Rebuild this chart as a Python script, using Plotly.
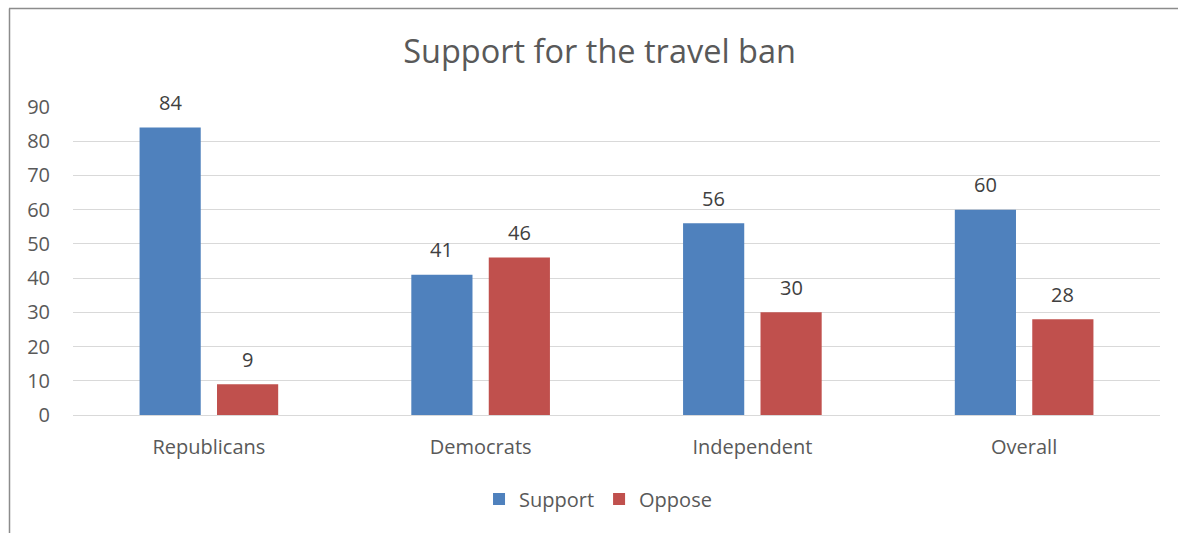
import plotly.graph_objects as go

categories = ["Republicans", "Democrats", "Independent", "Overall"]
support = [84, 41, 56, 60]
oppose = [9, 46, 30, 28]
y_ticks = [0, 10, 20, 30, 40, 50, 60, 70, 80, 90]

W, H = 1178, 533
ML, MR, MT, MB = 73, 18, 107, 118
pw = W - ML - MR
ph = H - MT - MB

FONT = "Open Sans, sans-serif"
BARGAP, GROUPGAP = 0.43, 0.21
TXT = 21

fig = go.Figure()
fig.add_trace(go.Bar(name="Support", x=categories, y=support,
                     marker=dict(color="#4F81BD", line=dict(width=0))))
fig.add_trace(go.Bar(name="Oppose", x=categories, y=oppose,
                     marker=dict(color="#C0504D", line=dict(width=0))))

# value labels centred over each bar
slot = (1 - BARGAP) / 2
for s_idx, vals in enumerate([support, oppose]):
    offset = -slot / 2 + s_idx * slot
    for i, v in enumerate(vals):
        fig.add_annotation(x=i + offset, y=v, xref="x", yref="y",
                           text=str(v), showarrow=False, yanchor="middle",
                           yshift=25, font=dict(size=TXT - 1, color="#404040", family=FONT))

# outer frame of the chart (left and top edges)
def px_to_paper_x(px):
    return (px - ML) / pw

def px_to_paper_y(py):
    return (H - MB - py) / ph

fig.add_shape(type="line", xref="paper", yref="paper",
              x0=px_to_paper_x(9.5), x1=px_to_paper_x(9.5),
              y0=px_to_paper_y(8.5), y1=px_to_paper_y(540),
              line=dict(color="#8C8C8C", width=1.5))
fig.add_shape(type="line", xref="paper", yref="paper",
              x0=px_to_paper_x(9), x1=px_to_paper_x(1190),
              y0=px_to_paper_y(8.5), y1=px_to_paper_y(8.5),
              line=dict(color="#8C8C8C", width=1.5))

fig.update_layout(
    width=W, height=H,
    margin=dict(l=ML, r=MR, t=MT, b=MB),
    paper_bgcolor="white", plot_bgcolor="white",
    font=dict(family=FONT, color="#595959", size=TXT),
    title=dict(text="Support for the travel ban", x=0.509, xanchor="center",
               y=1 - 52 / H, yanchor="middle",
               font=dict(size=32.5, color="#595959", family=FONT)),
    barmode="group", bargap=BARGAP, bargroupgap=GROUPGAP,
    showlegend=True,
    legend=dict(orientation="h", x=0.483, xanchor="center",
                y=-(499 - (H - MB)) / ph, yanchor="middle",
                font=dict(size=TXT - 1, color="#595959", family=FONT),
                itemwidth=30, traceorder="normal"),
    xaxis=dict(showgrid=False, showline=False, ticks="",
               tickfont=dict(size=TXT - 1, color="#595959"), ticklabelstandoff=18),
    yaxis=dict(range=[0, 90], tickvals=y_ticks, showgrid=True,
               gridcolor="#D9D9D9", gridwidth=1.3, zeroline=True,
               zerolinecolor="#D9D9D9", zerolinewidth=1.3,
               showline=False, ticks="",
               tickfont=dict(size=TXT - 1, color="#595959"), ticklabelstandoff=22),
)

fig.write_html("out.html")
